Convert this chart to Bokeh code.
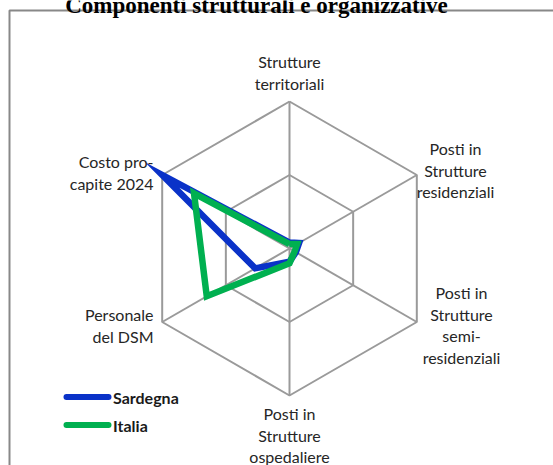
import math
from bokeh.plotting import figure
from bokeh.models import Range1d, ColumnDataSource
from bokeh.core.properties import value
from bokeh.embed import file_html
from bokeh.resources import INLINE

# ---------------- data ----------------
title = "Componenti strutturali e organizzative"
axes_labels = [
    "Strutture\nterritoriali",
    "Posti in\nStrutture\nresidenziali",
    "Posti in\nStrutture\nsemi-\nresidenziali",
    "Posti in\nStrutture\nospedaliere",
    "Personale\ndel DSM",
    "Costo pro-\ncapite 2024",
]
series_names = ["Sardegna", "Italia"]
sardegna = [0.04, 0.075, 0.05, 0.09, 0.27, 1.00]
italia = [0.03, 0.06, 0.04, 0.10, 0.65, 0.75]
grid_levels = [0.5, 1.0]
series_values = [sardegna, italia]
series_colors = ["#0A32C8", "#00B050"]

# ---------------- layout ----------------
W, H = 553, 465
CX, CY, R = 289, 248, 147
FONT = "Lato"

p = figure(width=W, height=H, output_backend="svg", toolbar_location=None,
           x_range=Range1d(0, W), y_range=Range1d(H, 0), min_border=0)
p.axis.visible = False
p.grid.visible = False
p.outline_line_color = None
p.background_fill_color = "white"
p.border_fill_color = "white"

n = len(axes_labels)
angles = [math.pi / 2 - 2 * math.pi * i / n for i in range(n)]


def pt(r, a):
    return CX + r * R * math.cos(a), CY - r * R * math.sin(a)


# grid hexagons
for lv in grid_levels:
    xs = [pt(lv, a)[0] for a in angles] + [pt(lv, angles[0])[0]]
    ys = [pt(lv, a)[1] for a in angles] + [pt(lv, angles[0])[1]]
    p.line(xs, ys, line_color="#9a9a9a", line_width=2)
# spokes
for a in angles:
    x1, y1 = pt(1.0, a)
    p.line([CX, x1], [CY, y1], line_color="#9a9a9a", line_width=2)

# series
for vals, col in zip(series_values, series_colors):
    xs = [pt(v, a)[0] for v, a in zip(vals, angles)]
    ys = [pt(v, a)[1] for v, a in zip(vals, angles)]
    xs.append(xs[0]); ys.append(ys[0])
    p.line(xs, ys, line_color=col, line_width=6.5, line_join="miter")

# axis labels (first line centre, alignment)
anchors = [(289, 61, "center"), (455, 148, "center"), (461, 292, "center"),
           (289, 413, "center"), (153, 314, "right"), (153, 161, "right")]
LH = 21.5
tx, ty, tt, ta = [], [], [], []
for lab, (ax_, ay_, al) in zip(axes_labels, anchors):
    for k, line in enumerate(lab.split("\n")):
        tx.append(ax_); ty.append(ay_ + k * LH); tt.append(line); ta.append(al)
src = ColumnDataSource(dict(x=tx, y=ty, text=tt, align=ta))
p.text("x", "y", text="text", text_align="align", source=src, text_baseline="middle",
       text_font=value(FONT), text_font_size="16px", text_color="#262626")

# legend
leg_y = [396.5, 424.5]
for name, col, ly in zip(series_names, series_colors, leg_y):
    p.line([66, 108], [ly, ly], line_color=col, line_width=6, line_cap="round")
    p.text([112.5], [ly], text=[name], text_baseline="middle", text_align="left",
           text_font=value(FONT), text_font_size="16px", text_font_style="bold",
           text_color="#1a1a1a")

# partial frame (left and top edges)
p.line([9, 9, W + 5], [H + 5, 10, 10], line_color="#888888", line_width=2)

# title (cut off at the top, as in the reference)
p.text([256], [5], text=[title], text_align="center", text_baseline="alphabetic",
       text_font=value("Liberation Serif"), text_font_size="23px",
       text_font_style="bold", text_color="black")

open("out.html", "w").write(file_html(p, INLINE))
